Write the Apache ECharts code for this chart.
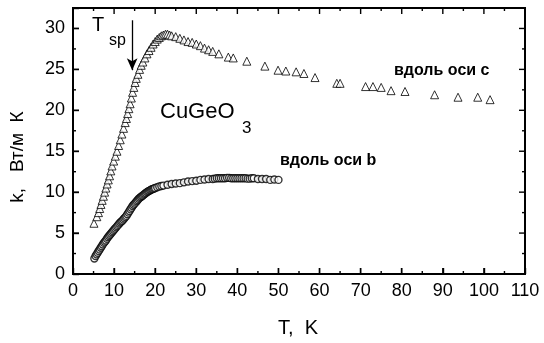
<!DOCTYPE html>
<html><head><meta charset="utf-8">
<script src="https://cdn.jsdelivr.net/npm/echarts@6/dist/echarts.min.js"></script>
<style>html,body{margin:0;padding:0;background:#fff}#c{width:544px;height:343px}</style>
</head><body><div id="c"></div>
<script>
// Along c-axis (triangles): [T, k]
const seriesC = [
[5.1,6.2],[5.8,7.0],[6.2,7.5],[6.5,8.0],[6.8,8.5],[7.1,9.0],[7.4,9.5],[7.7,10.0],[8.0,10.5],[8.3,11.0],
[8.6,11.5],[8.9,12.0],[9.2,12.6],[9.5,13.2],[9.9,13.8],[10.3,14.4],[10.7,15.0],[11.1,15.7],[11.5,16.4],[11.9,17.1],
[12.3,17.8],[12.7,18.5],[13.0,19.0],[13.3,19.6],[13.6,20.2],[13.9,20.8],[14.2,21.5],[14.5,22.2],[14.8,22.8],[15.1,23.4],
[15.4,23.9],[15.8,24.4],[16.2,25.0],[16.6,25.5],[17.0,25.9],[17.5,26.4],[18.0,26.9],[18.5,27.3],[19.0,27.7],[19.5,28.1],
[20.0,28.4],[20.5,28.7],[21.0,28.9],[21.5,29.1],[22.0,29.2],[22.5,29.3],[23.0,29.3],[23.5,29.2],[24.0,29.1],[25.0,29.0],
[26.0,28.8],[27.0,28.6],[28.0,28.4],[29.0,28.3],[30.0,28.1],[31.0,27.9],[32.0,27.6],[33.0,27.4],[34.0,27.2],[35.5,26.9],
[37.8,26.5],[39.0,26.4],[42.3,26.0],[46.7,25.4],[49.9,24.9],[51.8,24.8],[54.3,24.7],[56.2,24.5],[58.9,24.0],[64.2,23.3],
[65.0,23.3],[71.2,22.9],[73.0,22.9],[75.0,22.8],[77.4,22.4],[80.8,22.3],[88.0,21.9],[93.7,21.6],[98.5,21.6],[101.5,21.3]
];
// Along b-axis (circles): [T, k]
const seriesB = [
[5.2,1.9],[5.5,2.2],[5.75,2.4],[6.0,2.6],[6.25,2.8],[6.5,3.0],[6.75,3.2],[7.0,3.4],[7.25,3.6],[7.5,3.8],
[7.75,3.95],[8.0,4.1],[8.25,4.3],[8.5,4.5],[8.75,4.65],[9.0,4.8],[9.25,4.95],[9.5,5.1],[9.75,5.25],[10.0,5.4],
[10.25,5.55],[10.5,5.7],[10.75,5.85],[11.0,6.0],[11.25,6.15],[11.5,6.3],[11.75,6.4],[12.0,6.5],[12.25,6.65],[12.5,6.8],
[12.75,6.95],[13.0,7.1],[13.25,7.3],[13.5,7.5],[13.75,7.7],[14.0,7.9],[14.25,8.1],[14.5,8.3],[14.75,8.45],[15.0,8.6],
[15.25,8.75],[15.5,8.9],[15.75,9.05],[16.0,9.2],[16.25,9.3],[16.5,9.4],[16.75,9.5],[17.0,9.6],[17.25,9.7],[17.5,9.8],
[17.75,9.9],[18.0,10.0],[18.25,10.08],[18.5,10.15],[18.75,10.22],[19.0,10.3],[19.25,10.35],[19.5,10.4],[19.75,10.45],[20.0,10.5],
[20.5,10.6],[21.0,10.7],[21.5,10.75],[22.0,10.8],[23.0,10.9],[24.0,11.0],[25.0,11.05],[26.0,11.1],[27.0,11.2],[28.0,11.3],
[29.0,11.35],[30.0,11.4],[31.0,11.5],[32.0,11.55],[33.0,11.6],[34.0,11.6],[34.5,11.65],[35.0,11.7],[35.5,11.7],[36.0,11.7],
[36.5,11.7],[37.0,11.7],[37.5,11.75],[38.0,11.75],[38.5,11.7],[39.0,11.7],[39.5,11.7],[40.0,11.7],[40.5,11.7],[41.0,11.7],
[41.5,11.7],[42.0,11.7],[42.5,11.65],[43.0,11.65],[43.5,11.7],[44.0,11.7],[45.0,11.6],[46.0,11.6],[47.0,11.6],[48.0,11.5],
[49.0,11.55],[50.0,11.5]
];
const xTicks = [0,10,20,30,40,50,60,70,80,90,100,110];
const xMinorTicks = [5,15,25,35,45,55,65,75,85,95,105];
const yTicks = [0,5,10,15,20,25,30];
const yMinorTicks = [2.5,7.5,12.5,17.5,22.5,27.5];
const arrowLine = [[14.4,31.0],[14.4,24.9]];

const font = '"Liberation Sans", Arial, sans-serif';
const chart = echarts.init(document.getElementById('c'), null, {renderer:'canvas'});
const xMin = xTicks[0], xMax = xTicks[xTicks.length-1];
const yMin = yTicks[0], yMax = 32.5;

chart.setOption({
  animation:false,
  grid:{left:73,right:19,top:8,bottom:69,containLabel:false},
  xAxis:{type:'value',min:xMin,max:xMax,interval:10,
    axisLine:{show:true,onZero:false,lineStyle:{color:'#000',width:2}},
    axisTick:{show:true,inside:true,length:6,lineStyle:{color:'#000',width:1.4}},
    splitLine:{show:false},
    axisLabel:{fontFamily:font,fontSize:18,color:'#000',margin:8}},
  yAxis:{type:'value',min:yMin,max:yMax,interval:5,
    axisLine:{show:true,onZero:false,lineStyle:{color:'#000',width:2}},
    axisTick:{show:true,inside:true,length:6,lineStyle:{color:'#000',width:1.4}},
    splitLine:{show:false},
    axisLabel:{fontFamily:font,fontSize:18,color:'#000',margin:8,
      formatter:v=>yTicks.indexOf(v)>=0?String(v):''}},
  series:[
    {type:'scatter',name:'c',data:seriesC,symbol:'triangle',symbolSize:8,
     itemStyle:{color:'#fff',borderColor:'#000',borderWidth:1},
     markLine:{silent:true,symbol:['none','arrow'],symbolSize:[8,12],
       lineStyle:{color:'#000',type:'solid',width:1.3},label:{show:false},
       data:[[{coord:arrowLine[0]},{coord:arrowLine[1]}]]}},
    {type:'scatter',name:'b',data:seriesB,symbol:'circle',symbolSize:7,
     itemStyle:{color:'#fff',borderColor:'#000',borderWidth:1.4}}
  ]
});

// Frame and inward ticks on all four sides, placed through the axes' own scale
const px = (x,y) => chart.convertToPixel({gridIndex:0},[x,y]);
const p0 = px(xMin,yMin), p1 = px(xMax,yMax);
const L = Math.min(p0[0],p1[0]), R = Math.max(p0[0],p1[0]);
const T = Math.min(p0[1],p1[1]), B = Math.max(p0[1],p1[1]);
const frame = [];
const lineSt = w => ({stroke:'#000',lineWidth:w,fill:null});
frame.push({type:'rect',z:100,silent:true,shape:{x:L,y:T,width:R-L,height:B-T},style:{stroke:'#000',lineWidth:2,fill:'rgba(0,0,0,0)'}});
function xt(vals,len){ vals.forEach(v=>{ const x = px(v,yMin)[0];
  frame.push({type:'line',z:100,silent:true,shape:{x1:x,y1:B,x2:x,y2:B-len},style:lineSt(1.4)});
  frame.push({type:'line',z:100,silent:true,shape:{x1:x,y1:T,x2:x,y2:T+len},style:lineSt(1.4)});
});}
function yt(vals,len){ vals.forEach(v=>{ const y = px(xMin,v)[1];
  frame.push({type:'line',z:100,silent:true,shape:{x1:L,y1:y,x2:L+len,y2:y},style:lineSt(1.4)});
  frame.push({type:'line',z:100,silent:true,shape:{x1:R,y1:y,x2:R-len,y2:y},style:lineSt(1.4)});
});}
xt(xTicks,6); xt(xMinorTicks,3); yt(yTicks,6); yt(yMinorTicks,3);

const texts = [
  {type:'text',left:92,top:15,style:{text:'T',font:'20px '+font,fill:'#000'}},
  {type:'text',left:109,top:33,style:{text:'sp',font:'16px '+font,fill:'#000'}},
  {type:'text',left:160,top:101,style:{text:'CuGeO',font:'22px '+font,fill:'#000'}},
  {type:'text',left:242,top:120,style:{text:'3',font:'17px '+font,fill:'#000'}},
  {type:'text',left:394,top:63,style:{text:'вдоль оси с',font:'bold 16px '+font,fill:'#000'}},
  {type:'text',left:280,top:153,style:{text:'вдоль оси b',font:'bold 16px '+font,fill:'#000'}},
  {type:'text',x:298,y:328,style:{text:'T,  K',font:'20px '+font,fill:'#000',align:'center',verticalAlign:'middle'}},
  {type:'text',x:18,y:157,rotation:Math.PI/2,style:{text:'k,   Вт/м  К',font:'19px '+font,fill:'#000',align:'center',verticalAlign:'middle'}}
];
chart.setOption({graphic: texts.concat(frame)});
</script></body></html>
